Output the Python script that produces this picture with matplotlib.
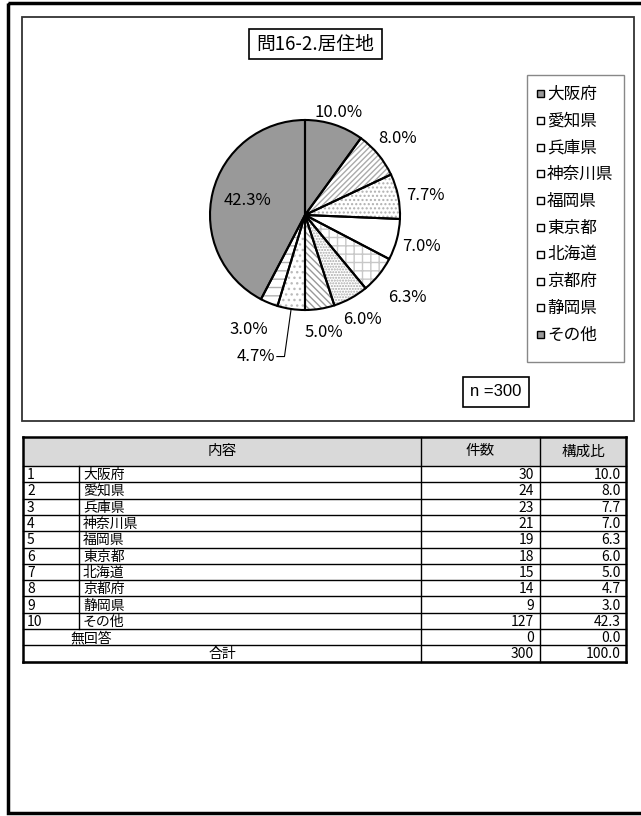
import numpy as np
import matplotlib
matplotlib.use("Agg")
from matplotlib import pyplot as plt
from matplotlib.patches import Rectangle

plt.rcParams['font.family'] = ['Noto Sans CJK JP', 'DejaVu Sans']
plt.rcParams['hatch.linewidth'] = 1.0

# data
title = "問16-2.居住地"
names = ["大阪府", "愛知県", "兵庫県", "神奈川県", "福岡県", "東京都", "北海道", "京都府", "静岡県", "その他"]
counts = [30, 24, 23, 21, 19, 18, 15, 14, 9, 127]
ratios = [10.0, 8.0, 7.7, 7.0, 6.3, 6.0, 5.0, 4.7, 3.0, 42.3]
no_answer = (0, 0.0)
total = (300, 100.0)
n_label = "n =300"
headers = ["内容", "件数", "構成比"]

# styles for each slice
faces = ["#999999", "white", "white", "white", "white", "white", "white", "white", "white", "#999999"]
hatches = [None, "//////", "....", None, "++", "......", "\\\\\\\\\\", "...", "--", None]
hatch_cols = ["#999999", "#aaaaaa", "#b0b0b0", "#aaaaaa", "#c8c8c8", "#a8a8a8", "#999999", "#bbbbbb", "#b0b0b0", "#999999"]

W, H = 641, 816
fig = plt.figure(figsize=(W / 100, H / 100), dpi=100)
fig.patch.set_facecolor("white")

# pixel canvas for frames, legend and table
cv = fig.add_axes([0, 0, 1, 1])
cv.set_xlim(0, W)
cv.set_ylim(H, 0)
cv.axis("off")


def box(x0, y0, x1, y1, lw=1.0, ec="black", fc="none", z=1):
    cv.add_patch(Rectangle((x0, y0), x1 - x0, y1 - y0, lw=lw, ec=ec, fc=fc, zorder=z))


box(8, 3, 650, 813, lw=2.5)
box(22, 17, 634, 421, lw=1.3, ec="#333333")

# title
box(249, 29, 382, 59, lw=1.2)
cv.text(315.5, 44.5, title, ha="center", va="center", fontsize=13.5)

# legend
box(527, 75, 624, 362, lw=1.0, ec="#888888")
leg_y0, leg_dy = 94, 26.8
for i, name in enumerate(names):
    y = leg_y0 + i * leg_dy
    cv.add_patch(Rectangle((537, y - 4), 7, 7, lw=1.0, ec="black", fc=faces[i], zorder=2))
    cv.text(547, y, name, ha="left", va="center", fontsize=12)

# n box
box(463, 377, 529, 407, lw=1.2)
cv.text(496, 392, n_label, ha="center", va="center", fontsize=12, family="Liberation Sans")

# pie
cx, cy, r = 305, 215, 95
ax = fig.add_axes([(cx - r) / W, 1 - (cy + r) / H, 2 * r / W, 2 * r / H])
wedges, _ = ax.pie(counts, startangle=90, counterclock=False, colors=faces,
                   wedgeprops=dict(linewidth=0))
for w, h, hc in zip(wedges, hatches, hatch_cols):
    w.set_edgecolor(hc)
    if h:
        w.set_hatch(h)
ax.pie(counts, startangle=90, counterclock=False,
       wedgeprops=dict(fill=False, edgecolor="black", linewidth=1.5))
ax.set_xlim(-1, 1)
ax.set_ylim(-1, 1)

label_r = [1.14, 1.27, 1.29, 1.27, 1.38, 1.25, 1.25, None, 1.3, 0.62]
for i, w in enumerate(wedges):
    mid = np.deg2rad((w.theta1 + w.theta2) / 2)
    txt = f"{ratios[i]:.1f}%"
    if label_r[i] is None:
        ex, ey = np.cos(mid), np.sin(mid)
        ax.plot([ex, ex - 0.07, ex - 0.15], [ey, -1.49, -1.49], color="black", lw=0.8, clip_on=False)
        ax.text(ex - 0.17, -1.49, txt, ha="right", va="center", fontsize=12)
    else:
        ax.text(label_r[i] * np.cos(mid) - (0.1 if i == 8 else 0),
                label_r[i] * np.sin(mid) - (0.05 if i == 2 else 0), txt,
                ha="center", va="center", fontsize=12)

# table
xs = [23, 79, 421, 540, 626]
top, head_h, row_h = 437, 29, 16.3
rows = [(str(i + 1), names[i], counts[i], ratios[i]) for i in range(len(names))]
rows.append(("", "無回答", no_answer[0], no_answer[1]))
rows.append(("", "合計", total[0], total[1]))
bottom = top + head_h + row_h * len(rows)

cv.add_patch(Rectangle((xs[0], top), xs[-1] - xs[0], head_h, fc="#d9d9d9", ec="none", zorder=1))
cv.text((xs[0] + xs[2]) / 2, top + head_h / 2, headers[0], ha="center", va="center", fontsize=10.5)
cv.text((xs[2] + xs[3]) / 2, top + head_h / 2, headers[1], ha="center", va="center", fontsize=10.5)
cv.text((xs[3] + xs[4]) / 2, top + head_h / 2, headers[2], ha="center", va="center", fontsize=10.5)

lc = "black"
for k in range(len(rows) + 1):
    y = top + head_h + k * row_h
    cv.plot([xs[0], xs[-1]], [y, y], color=lc, lw=1.0, zorder=3)
cv.plot([xs[0], xs[-1]], [top, top], color=lc, lw=1.8, zorder=3)
cv.plot([xs[0], xs[-1]], [bottom, bottom], color=lc, lw=1.8, zorder=3)
cv.plot([xs[0], xs[0]], [top, bottom], color=lc, lw=1.8, zorder=3)
cv.plot([xs[-1], xs[-1]], [top, bottom], color=lc, lw=1.8, zorder=3)
for x in xs[2:4]:
    cv.plot([x, x], [top, bottom], color=lc, lw=1.0, zorder=3)
n_items = len(names)
cv.plot([xs[1], xs[1]], [top + head_h, top + head_h + n_items * row_h], color=lc, lw=1.0, zorder=3)

for k, (num, name, cnt, rat) in enumerate(rows):
    yc = top + head_h + (k + 0.5) * row_h + 1
    if k < n_items:
        cv.text(xs[0] + 4, yc, num, ha="left", va="center", fontsize=10)
        cv.text(xs[1] + 4, yc, name, ha="left", va="center", fontsize=10)
    elif name == "合計":
        cv.text((xs[0] + xs[2]) / 2, yc, name, ha="center", va="center", fontsize=10)
    else:
        cv.text(xs[0] + 47, yc, name, ha="left", va="center", fontsize=10)
    cv.text(xs[3] - 6, yc, str(cnt), ha="right", va="center", fontsize=10)
    cv.text(xs[4] - 5, yc, f"{rat:.1f}", ha="right", va="center", fontsize=10)

fig.savefig("out.png", dpi=100, facecolor="white")
